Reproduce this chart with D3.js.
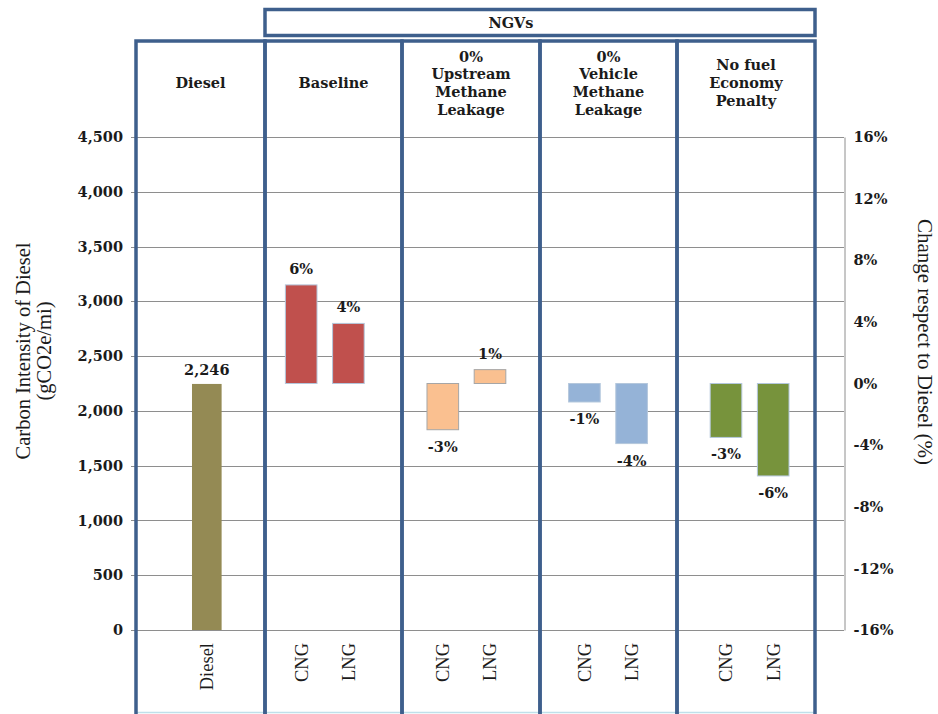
<!DOCTYPE html>
<html>
<head>
<meta charset="utf-8">
<script src="https://cdn.jsdelivr.net/npm/d3@7"></script>
<style>
body { margin: 0; background: #fff; }
svg text { fill: #1b1b1b; }
.num { font-family: "DejaVu Serif", Georgia, serif; font-weight: bold; font-size: 14.5px; }
.head { font-family: "DejaVu Serif", Georgia, serif; font-weight: bold; font-size: 14.5px; }
.times { font-family: "Liberation Serif", "Times New Roman", serif; }
</style>
</head>
<body>
<svg id="chart" width="938" height="714"></svg>
<script>

// values
var slotLabels = ['', 'Diesel', '', 'CNG', 'LNG', '', 'CNG', 'LNG', '', 'CNG', 'LNG', '', 'CNG', 'LNG', ''];
var dieselSlot = 1;
var dieselValue = 2246;
var dieselLabel = '2,246';
var ngvSlots = [3, 4, 6, 7, 9, 10, 12, 13];
var ngvChange = [6.4, 3.9, -3.0, 0.9, -1.2, -3.9, -3.5, -6.0];
var ngvLabels = ['6%', '4%', '-3%', '1%', '-1%', '-4%', '-3%', '-6%'];
var ngvCase = [0, 0, 1, 1, 2, 2, 3, 3];
var caseColors = ['#c0504d', '#fac090', '#95b3d7', '#77933c'];
var caseStroke = ['#b4c7dc', '#a6a6a6', '#b4c7dc', '#b4c7dc'];
var dieselColor = '#948a54';
var panelTitles = [['Diesel'], ['Baseline'], ['0%', 'Upstream', 'Methane', 'Leakage'],
                   ['0%', 'Vehicle', 'Methane', 'Leakage'], ['No fuel', 'Economy', 'Penalty']];
var groupTitle = 'NGVs';
var leftTicks = [0, 500, 1000, 1500, 2000, 2500, 3000, 3500, 4000, 4500];
var rightTicks = [-16, -12, -8, -4, 0, 4, 8, 12, 16];
var leftTitle = ['Carbon Intensity of Diesel', '(gCO2e/mi)'];
var rightTitle = 'Change respect to Diesel (%)';

var chart = {

    plot : {left: 136, right: 844, top: 137, bottom: 630},
    panelX : [136, 265, 402, 540, 677, 815],
    blue : '#3e5f8c',
    grid : '#8e8e8e',

    init : function() {

        this.svg = d3.select('#chart');
        var p = this.plot;

        this.x = d3.scaleBand().domain(d3.range(slotLabels.length))
            .range([p.left, p.right]).paddingInner(0.33).paddingOuter(0.165);
        this.yLeft = d3.scaleLinear().domain([0, 4500]).range([p.bottom, p.top]);
        this.yRight = d3.scaleLinear().domain([-16, 16]).range([p.bottom, p.top]);

        this.axes();
        this.bars();
        this.panels();
        this.titles();

    },

    axes : function() {

        var p = this.plot, svg = this.svg;

        svg.append('g').selectAll('line').data(leftTicks).join('line')
            .attr('x1', p.left - 5).attr('x2', p.right)
            .attr('y1', d => Math.round(this.yLeft(d)) + 0.5).attr('y2', d => Math.round(this.yLeft(d)) + 0.5)
            .attr('stroke', this.grid).attr('stroke-width', 1);

        var left = svg.append('g').attr('transform', 'translate(' + p.left + ',0)')
            .call(d3.axisLeft(this.yLeft).tickValues(leftTicks).tickFormat(d3.format(',')).tickSize(0).tickPadding(13));
        left.select('.domain').remove();
        left.selectAll('text').attr('class', 'num').attr('font-family', null).attr('font-size', null);

        var right = svg.append('g').attr('transform', 'translate(' + (p.right + 0.5) + ',0)')
            .call(d3.axisRight(this.yRight).tickValues(rightTicks).tickFormat(d => d + '%').tickSize(0).tickPadding(9));
        right.select('.domain').attr('stroke', this.grid);
        right.selectAll('text').attr('class', 'num').attr('font-family', null).attr('font-size', null);

        // category names under the bars
        svg.append('g').selectAll('text').data(d3.range(slotLabels.length).filter(i => slotLabels[i])).join('text')
            .attr('class', 'times').attr('font-size', 18.5)
            .attr('text-anchor', 'end').attr('dy', '0.35em')
            .attr('transform', i => 'translate(' + (this.x(i) + this.x.bandwidth() / 2) + ',' + (p.bottom + 13) + ') rotate(-90)')
            .text(i => slotLabels[i]);

    },

    bars : function() {

        var svg = this.svg, x = this.x, yL = this.yLeft, yR = this.yRight;
        var bw = x.bandwidth();

        svg.append('rect')
            .attr('x', x(dieselSlot) + 1).attr('width', bw - 2)
            .attr('y', yL(dieselValue)).attr('height', yL(0) - yL(dieselValue))
            .attr('fill', dieselColor);

        svg.append('text').attr('class', 'num')
            .attr('x', x(dieselSlot) + bw / 2).attr('y', yL(dieselValue) - 9)
            .attr('text-anchor', 'middle').text(dieselLabel);

        var rows = ngvSlots.map((s, i) => ({slot: s, v: ngvChange[i], label: ngvLabels[i], c: ngvCase[i]}));

        svg.append('g').selectAll('rect').data(rows).join('rect')
            .attr('x', d => x(d.slot)).attr('width', bw)
            .attr('y', d => yR(Math.max(0, d.v))).attr('height', d => Math.abs(yR(d.v) - yR(0)))
            .attr('fill', d => caseColors[d.c]).attr('stroke', d => caseStroke[d.c]).attr('stroke-width', 1);

        svg.append('g').selectAll('text').data(rows).join('text')
            .attr('class', 'num').attr('text-anchor', 'middle')
            .attr('x', d => x(d.slot) + bw / 2)
            .attr('y', d => d.v >= 0 ? yR(d.v) - 11 : yR(d.v) + 22)
            .text(d => d.label);

    },

    panels : function() {

        var svg = this.svg, px = this.panelX, blue = this.blue;

        svg.append('line').attr('x1', px[0]).attr('x2', px[px.length - 1])
            .attr('y1', 712.5).attr('y2', 712.5).attr('stroke', '#bfe0ea').attr('stroke-width', 1.5);

        svg.append('g').selectAll('rect').data(panelTitles).join('rect')
            .attr('x', (d, i) => px[i]).attr('width', (d, i) => px[i + 1] - px[i])
            .attr('y', 41).attr('height', 700)
            .attr('fill', 'none').attr('stroke', blue).attr('stroke-width', 3.5);

        var heads = svg.append('g').selectAll('text').data(panelTitles).join('text')
            .attr('class', 'head').attr('text-anchor', 'middle')
            .attr('transform', (d, i) => 'translate(' + ((px[i] + px[i + 1]) / 2) + ',' + (83 - (d.length - 1) * 17.7 / 2) + ')');
        heads.selectAll('tspan').data(d => d).join('tspan')
            .attr('x', 0).attr('y', (d, i) => i * 17.7).attr('dy', '0.35em').text(d => d);

        svg.append('rect').attr('x', px[1]).attr('width', px[px.length - 1] - px[1])
            .attr('y', 9.5).attr('height', 26)
            .attr('fill', 'none').attr('stroke', blue).attr('stroke-width', 3.5);

        svg.append('text').attr('class', 'head').attr('font-size', 13.5)
            .attr('x', 511).attr('y', 23).attr('dy', '0.35em').attr('text-anchor', 'middle').text(groupTitle);

    },

    titles : function() {

        var svg = this.svg;

        svg.append('g').selectAll('text').data(leftTitle).join('text')
            .attr('class', 'times').attr('font-size', 20.5).attr('text-anchor', 'middle').attr('dy', '0.35em')
            .attr('transform', (d, i) => 'translate(' + (23 + i * 21) + ',351) rotate(-90)')
            .text(d => d);

        svg.append('text').attr('class', 'times').attr('font-size', 21)
            .attr('text-anchor', 'middle').attr('dy', '0.35em')
            .attr('transform', 'translate(925,342) rotate(90)')
            .text(rightTitle);

    }
}

chart.init();

</script>
</body>
</html>
